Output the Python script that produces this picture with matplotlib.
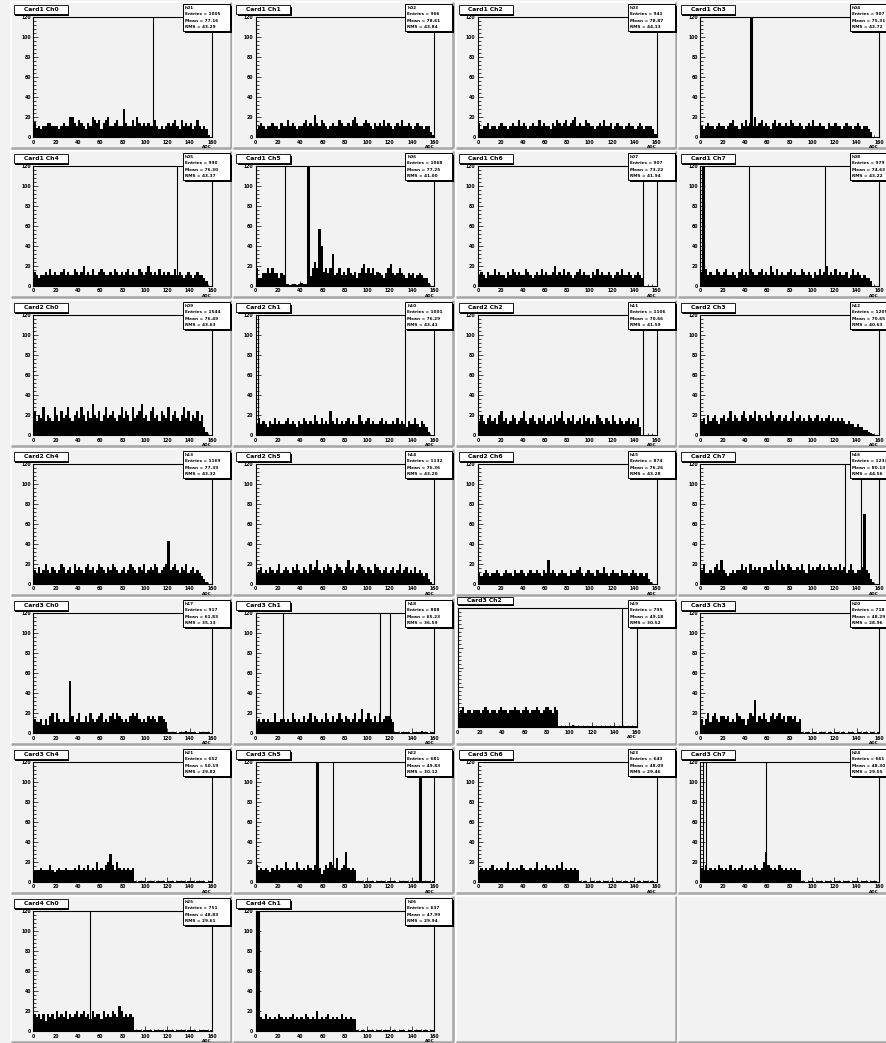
import matplotlib
matplotlib.use('Agg')
import matplotlib.pyplot as plt
from matplotlib.patches import Rectangle
from matplotlib.ticker import MultipleLocator
import numpy as np

W, H = 887, 1043
BG = '#f2f2f2'
X_MAX = 160
Y_MAX = 120
BIN_W = 2
x_ticks = [0, 20, 40, 60, 80, 100, 120, 140, 160]
y_ticks = [0, 20, 40, 60, 80, 100, 120]

titles = ["Card1 Ch0", "Card1 Ch1", "Card1 Ch2", "Card1 Ch3",
          "Card1 Ch4", "Card1 Ch5", "Card1 Ch6", "Card1 Ch7",
          "Card2 Ch0", "Card2 Ch1", "Card2 Ch2", "Card2 Ch3",
          "Card2 Ch4", "Card2 Ch5", "Card2 Ch6", "Card2 Ch7",
          "Card3 Ch0", "Card3 Ch1", "Card3 Ch2", "Card3 Ch3",
          "Card3 Ch4", "Card3 Ch5", "Card3 Ch6", "Card3 Ch7",
          "Card4 Ch0", "Card4 Ch1"]

h01 = [15,9,11,8,11,11,14,14,11,11,11,8,11,14,11,11,20,20,14,11,
       17,14,11,8,14,11,20,17,14,17,8,14,17,20,11,11,14,17,11,11,
       28,14,11,11,17,11,20,14,11,14,11,14,11,11,17,11,8,11,8,11,
       14,11,14,17,11,8,17,11,14,11,14,8,11,17,11,8,11,8,2,0]
h02 = [8,11,14,11,8,11,11,14,11,11,8,14,11,11,17,11,14,11,8,11,
       11,14,17,11,14,11,22,14,11,17,14,11,8,11,14,11,11,17,14,11,
       11,14,11,17,20,14,11,11,14,17,14,11,8,14,11,14,11,17,11,14,
       11,8,11,14,11,17,11,11,14,11,8,11,14,11,11,8,11,11,5,2]
h03 = [14,8,11,11,14,8,11,11,8,11,14,11,11,8,11,14,11,11,17,11,
       14,11,8,11,14,11,11,17,11,14,11,11,8,14,11,17,14,11,14,17,
       11,14,17,20,11,14,11,11,17,14,11,11,8,11,14,11,17,11,11,14,
       8,11,14,11,11,8,11,14,11,11,8,11,14,11,8,11,11,11,8,3]
h04 = [11,8,11,14,11,11,8,11,14,11,11,8,11,14,17,11,11,8,14,11,
       17,11,14,11,20,11,14,17,11,14,11,8,14,17,11,14,11,11,14,11,
       17,14,11,11,14,11,8,11,14,11,17,11,11,14,11,11,8,14,11,11,
       14,11,11,8,11,14,11,11,8,11,14,11,8,11,11,8,5,0,0,0]
h05 = [14,11,8,11,11,14,11,17,11,14,11,11,14,17,11,14,11,11,17,14,
       11,14,20,11,14,11,17,11,11,14,17,14,11,11,14,11,17,14,11,14,
       11,14,17,11,14,11,11,17,14,11,14,20,14,11,14,11,17,11,14,11,
       14,11,11,17,11,14,11,8,11,14,11,8,11,14,11,11,8,5,0,0]
h06 = [18,8,8,13,13,18,13,18,13,13,8,13,11,
       2,2,1,2,2,1,2,3,2,2,
       67,10,18,24,18,57,40,14,18,13,18,32,11,13,18,11,14,
       11,18,13,11,14,8,13,18,22,13,18,13,18,11,14,13,11,8,13,18,
       22,13,11,13,18,13,11,8,13,11,13,8,11,13,11,8,8,3,0,0]
h07 = [11,14,11,8,14,11,11,17,11,14,11,11,8,14,11,17,14,11,14,11,
       11,17,14,11,8,11,14,11,17,11,14,11,11,14,20,11,14,11,17,11,
       14,11,8,11,14,17,11,14,11,11,8,14,11,17,11,14,11,11,14,11,
       8,11,14,11,17,11,11,14,11,8,11,14,11,8,0,0,0,0,0,0]
h08 = [14,11,17,11,14,11,11,17,14,11,14,17,11,11,14,11,8,14,17,11,
       14,11,17,14,11,11,14,17,11,14,11,20,14,11,17,11,14,11,11,14,
       17,11,14,11,11,17,14,11,14,11,8,14,11,17,11,14,20,11,14,11,
       17,11,14,11,11,14,8,11,17,11,14,11,8,11,8,8,5,0,0,0]
h09 = [24,14,20,17,28,14,20,17,14,28,20,14,24,17,20,28,17,14,20,24,
       17,28,20,14,24,17,31,20,17,24,14,20,28,17,20,24,17,14,20,28,
       17,24,20,14,28,17,20,24,31,17,20,14,24,28,17,20,14,24,20,17,
       28,14,20,24,17,14,20,28,17,24,14,20,17,24,14,20,8,3,0,0]
h10 = [11,17,11,14,11,8,14,11,17,11,14,11,11,14,17,11,14,11,8,14,
       11,17,14,11,14,11,20,14,11,17,11,14,11,24,14,11,17,11,14,11,
       14,17,11,14,11,11,20,14,11,14,17,11,14,11,11,14,17,11,14,11,
       11,14,11,17,11,14,11,8,14,11,11,17,11,8,14,11,8,3,0,0]
h11 = [14,20,14,11,17,20,14,17,11,20,24,14,17,11,14,20,17,11,14,17,
       24,14,11,17,20,14,11,17,14,20,11,14,17,11,20,14,17,24,14,11,
       17,14,20,11,14,17,11,20,14,17,11,14,11,20,17,14,11,17,14,11,
       20,14,11,17,14,11,14,17,11,14,11,17,8,0,0,0,0,0,0,0]
h12 = [14,17,11,20,14,17,20,14,11,17,20,14,17,24,14,20,17,14,20,24,
       17,14,20,17,24,14,20,17,14,20,17,24,20,14,17,20,14,17,20,14,
       17,24,14,17,20,14,17,14,20,17,14,17,20,14,17,14,17,20,14,17,
       14,17,14,17,14,11,14,11,11,8,11,8,8,5,5,3,2,1,0,0]
h13 = [14,11,17,11,14,20,14,11,17,14,11,14,20,17,11,14,17,11,20,14,
       17,14,11,17,20,14,17,11,14,20,17,14,11,17,14,20,17,14,11,14,
       17,11,14,20,17,14,11,17,14,20,11,14,17,14,20,17,11,14,17,20,
       43,14,17,20,14,11,17,14,20,11,14,17,11,14,11,8,5,2,0,0]
h14 = [11,14,17,11,14,11,17,14,11,14,20,11,14,17,14,11,17,14,20,14,
       11,17,14,11,20,14,17,24,14,11,17,14,20,17,11,14,20,17,14,11,
       17,24,14,17,11,14,20,17,14,11,17,14,11,20,17,14,11,14,17,11,
       14,17,11,14,20,11,14,17,11,14,11,17,11,14,11,8,11,5,2,0]
h15 = [11,8,11,14,11,8,11,11,14,11,8,11,14,11,11,8,14,11,11,14,
       11,8,11,14,11,11,14,11,8,14,11,24,11,14,11,8,11,14,11,11,
       8,14,11,11,14,17,11,8,11,14,11,11,8,14,11,11,17,11,8,11,
       14,11,11,8,14,11,11,8,11,14,11,8,11,11,8,11,5,2,0,0]
h16 = [14,20,11,11,14,11,17,20,14,24,14,11,8,11,14,11,14,14,20,14,
       17,11,20,14,17,14,17,11,17,17,14,20,17,14,24,14,20,17,14,20,
       17,14,14,17,14,20,14,11,20,14,17,14,17,20,14,17,14,20,17,14,
       17,14,20,14,17,11,14,20,14,11,14,14,17,70,14,11,5,2,0,0]
h17 = [14,11,11,14,8,14,8,17,20,11,20,14,11,14,11,11,52,17,11,14,
       20,11,11,17,11,20,14,11,14,17,20,11,14,11,17,20,14,20,17,14,
       11,14,11,17,20,17,20,14,11,14,11,17,14,17,14,11,17,17,14,11,
       1,1,1,1,0,1,1,1,2,1,1,1,1,0,1,1,1,1,1,0]
h18 = [11,14,11,14,11,14,11,11,20,11,11,14,14,11,14,11,20,14,11,14,
       11,17,11,14,20,11,17,14,11,14,11,20,14,11,17,11,14,20,14,11,
       17,14,11,14,20,11,14,24,11,14,20,14,11,17,11,20,11,14,17,17,
       14,11,1,1,0,1,1,1,1,0,1,1,1,1,2,1,1,0,1,1]
h19 = [14,17,20,14,17,17,14,17,17,17,14,17,20,17,14,17,17,14,17,20,
       17,17,14,17,17,20,17,17,14,17,20,17,14,17,17,20,17,14,17,20,
       20,17,14,20,17,1,1,1,1,1,1,2,1,1,1,1,1,1,1,1,
       1,1,1,1,1,1,1,1,1,1,1,1,1,1,1,1,1,1,1,1]
h20 = [14,8,14,20,11,17,20,14,11,17,17,14,17,11,14,11,20,17,14,14,
       8,14,20,17,33,11,17,14,20,14,11,17,20,14,17,20,14,17,11,17,
       17,14,17,11,14,1,0,1,1,0,1,1,0,1,1,1,0,1,1,0,
       1,1,0,1,1,0,1,1,1,0,1,1,0,1,1,0,1,1,0,1]
h21 = [12,12,12,14,12,12,12,17,12,10,12,14,12,12,14,12,12,12,14,12,
       17,12,14,12,17,12,14,12,20,12,14,12,17,20,28,17,12,20,14,12,
       14,12,14,12,14,1,0,1,1,1,0,1,1,1,0,1,1,1,1,0,
       1,1,1,0,1,1,1,1,0,1,1,1,0,1,1,1,1,0,1,1]
h22 = [17,12,14,12,14,12,10,14,12,17,12,14,12,20,14,12,14,12,20,14,
       12,14,12,17,14,12,17,12,14,8,12,17,14,20,17,14,24,12,14,17,
       30,14,12,14,12,1,1,1,0,1,1,1,1,0,1,1,1,1,0,1,
       1,1,1,0,1,1,1,1,0,1,1,1,1,0,1,1,1,1,0,1]
h23 = [12,14,12,14,12,14,17,12,14,12,14,12,14,20,12,14,12,14,12,17,
       14,12,12,14,12,14,20,12,14,12,17,14,12,14,12,17,14,20,12,14,
       12,14,12,14,12,1,0,1,1,0,1,1,0,1,1,0,1,1,0,1,
       1,0,1,1,0,1,1,0,1,1,0,1,1,0,1,1,0,1,1,0]
h24 = [14,12,17,12,14,12,14,12,17,14,12,14,12,17,12,14,12,14,17,12,
       14,12,14,12,17,14,12,14,20,30,17,14,12,14,12,17,14,12,14,12,
       14,12,14,12,12,1,1,0,1,1,1,0,1,1,1,0,1,1,1,0,
       1,1,1,0,1,1,1,0,1,1,1,0,1,1,1,0,1,1,1,0]
h25 = [17,14,17,12,17,10,17,14,17,12,20,14,17,14,20,12,17,14,17,20,
       14,17,20,14,17,12,20,14,17,17,12,20,14,17,14,20,17,14,25,20,
       14,17,14,17,14,1,1,1,0,1,1,1,1,0,1,1,1,1,0,1,
       1,1,1,0,1,1,1,1,0,1,1,1,1,0,1,1,1,1,0,1]
h26 = [14,12,14,12,17,12,14,12,14,12,17,14,12,14,12,14,17,12,14,12,
       14,12,17,14,12,14,12,20,12,14,12,14,17,12,14,12,14,12,17,12,
       14,12,14,12,12,1,0,1,1,0,1,1,1,0,1,1,0,1,1,1,
       0,1,1,0,1,1,1,0,1,1,0,1,1,1,0,1,1,0,1,1]

hists = [h01, h02, h03, h04, h05, h06, h07, h08, h09, h10, h11, h12, h13,
         h14, h15, h16, h17, h18, h19, h20, h21, h22, h23, h24, h25, h26]

# overflow spikes (single channels far above the frame): x position, wide?
spike_x = {1: [106.7], 4: [45], 5: [129], 6: [26, 46.5], 7: [148],
           8: [2, 44, 112], 10: [2, 134], 11: [148], 16: [130, 144],
           18: [24, 111, 120], 19: [147], 22: [55, 69, 147],
           24: [2, 5, 59], 25: [51], 26: [2]}
spike_wide = {1: [0], 4: [1], 5: [0], 6: [0, 1], 7: [0],
              8: [1, 0, 0], 10: [0, 0], 11: [0], 16: [0, 0],
              18: [0, 0, 0], 19: [0], 22: [1, 0, 1],
              24: [0, 0, 0], 25: [0], 26: [1]}
spike_height = 1000

fig = plt.figure(figsize=(W / 100, H / 100), dpi=100)
fig.patch.set_facecolor(BG)


def px_axes(x0, y0, x1, y1):
    return [x0 / W, 1 - y1 / H, (x1 - x0) / W, (y1 - y0) / H]


bg = fig.add_axes([0, 0, 1, 1], zorder=0)
bg.set_xlim(0, W); bg.set_ylim(H, 0); bg.axis('off')
fg = fig.add_axes([0, 0, 1, 1], zorder=10)
fg.set_xlim(0, W); fg.set_ylim(H, 0); fg.axis('off')

COLW = 222.3
ROWH = 149
for r in range(7):
    for c in range(4):
        ox = 10 + COLW * c
        oy = ROWH * r
        x0, x1 = ox + 1, ox + 221
        y0, y1 = oy + 2, oy + 148
        bg.add_patch(Rectangle((x0, y0), x1 - x0, y1 - y0, fc=BG, ec='none'))
        bg.plot([x0, x1], [y0, y0], color='white', lw=1.2, solid_capstyle='butt')
        bg.plot([x0, x0], [y0, y1], color='white', lw=1.2, solid_capstyle='butt')
        bg.plot([x1, x1], [y0, y1], color='#a6a6a6', lw=1.8, solid_capstyle='butt')
        bg.plot([x0, x1], [y1, y1], color='#a6a6a6', lw=1.8, solid_capstyle='butt')

for i, vals in enumerate(hists):
    n = i + 1
    r, c = divmod(i, 4)
    ox = 10 + COLW * c
    oy = ROWH * r
    if n == 19:
        fx0, fy0, fx1, fy1 = ox + 3, oy + 12, ox + 182, oy + 131
        tb = (ox + 2, oy + 1, ox + 58, oy + 8)
    else:
        fx0, fy0, fx1, fy1 = ox + 23.5, oy + 17, ox + 202, oy + 137
        tb = (ox + 4, oy + 5, ox + 58, oy + 14)
    sb = (ox + 173, oy + 4, ox + 220, oy + 31)

    ax = fig.add_axes(px_axes(fx0, fy0, fx1, fy1), zorder=2)
    ax.set_facecolor(BG)
    edges = np.arange(len(vals) + 1) * BIN_W
    ax.stairs(vals, edges, fill=True, color='black', lw=0)
    for sx, wide in zip(spike_x.get(n, []), spike_wide.get(n, [])):
        ax.vlines(sx, 0, spike_height, colors='black', lw=2.2 if wide else 0.8)
    ax.set_xlim(0, X_MAX)
    ax.set_ylim(0, Y_MAX)
    ax.set_xticks(x_ticks)
    ax.set_yticks(y_ticks)
    ax.xaxis.set_minor_locator(MultipleLocator(4))
    ax.yaxis.set_minor_locator(MultipleLocator(4))
    ax.tick_params(which='both', direction='in', top=False, right=False,
                   width=0.5, labelsize=3.3, pad=1.8)
    ax.tick_params(which='major', length=3.5)
    ax.tick_params(which='minor', length=1.8)
    if n == 19:
        ax.tick_params(labelleft=False)
    for lbl in ax.get_xticklabels() + ax.get_yticklabels():
        lbl.set_fontweight('bold')
    for sp in ax.spines.values():
        sp.set_linewidth(0.8)
        sp.set_color('black')

    # axis title
    fg.text(fx1, fy1 + 10, "ADC", fontsize=3.0, fontweight='bold',
            ha='right', va='center')

    # title box
    tx0, ty0, tx1, ty1 = tb
    fg.add_patch(Rectangle((tx0 + 1.5, ty0 + 1.5), tx1 - tx0, ty1 - ty0,
                           fc='black', ec='none'))
    fg.add_patch(Rectangle((tx0, ty0), tx1 - tx0, ty1 - ty0,
                           fc='white', ec='black', lw=0.6))
    fg.text((tx0 + tx1) / 2, (ty0 + ty1) / 2 + 0.3, titles[i], fontsize=4.3,
            fontweight='bold', ha='center', va='center')

    # stats box
    v = np.array(vals, dtype=float)
    centers = edges[:-1] + BIN_W / 2
    entries = int(v.sum())
    mean = (v * centers).sum() / v.sum()
    rms = np.sqrt((v * (centers - mean) ** 2).sum() / v.sum())
    sx0, sy0, sx1, sy1 = sb
    fg.add_patch(Rectangle((sx0 + 2, sy0 + 2), sx1 - sx0, sy1 - sy0,
                           fc='black', ec='none'))
    fg.add_patch(Rectangle((sx0, sy0), sx1 - sx0, sy1 - sy0,
                           fc='white', ec='black', lw=0.7))
    lines = ["h%02d" % n, "Entries = %d" % entries,
             "Mean = %.2f" % mean, "RMS = %.2f" % rms]
    for k, t in enumerate(lines):
        fg.text(sx0 + 2, sy0 + 4 + 6.4 * k, t, fontsize=3.1,
                fontweight='bold', ha='left', va='center')

fig.savefig('out.png', dpi=100, facecolor=BG)
